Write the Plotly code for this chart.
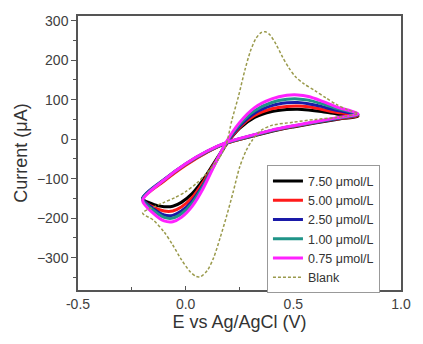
import plotly.graph_objects as go

# Potentials (V) for the forward (dip -> peak) and return (straight) branches
x_fwd = [-0.2, -0.15, -0.1, -0.06, -0.02, 0.03, 0.08, 0.13, 0.19, 0.25, 0.32, 0.4, 0.47, 0.52, 0.57, 0.63, 0.7, 0.8]
x_rev = [0.8, 0.7, 0.6, 0.5, 0.4, 0.3, 0.19, 0.1, 0.0, -0.1, -0.2]

labels = ["7.50 μmol/L", "5.00 μmol/L", "2.50 μmol/L", "1.00 μmol/L", "0.75 μmol/L"]
colors = ["#000000", "#ff1a1a", "#1a1aa8", "#1f9488", "#ff22ff"]

i_fwd = [
    [-150, -165, -171, -170, -160, -138, -104, -62, -12, 27, 55, 70, 75, 76, 74, 70, 64, 58],
    [-152, -172, -182, -182, -172, -148, -110, -65, -12, 30, 60, 77, 83, 84, 82, 76, 68, 60],
    [-150, -176, -192, -193, -182, -157, -117, -68, -10, 33, 66, 85, 92, 93, 90, 83, 73, 62],
    [-152, -180, -198, -200, -189, -162, -120, -68, -8, 37, 72, 93, 101, 102, 99, 90, 78, 63],
    [-155, -188, -207, -209, -198, -170, -126, -70, -6, 42, 80, 102, 111, 112, 108, 97, 82, 64],
]
i_rev = [
    [58, 50, 41, 31, 20, 6, -10, -32, -64, -104, -150],
    [60, 51, 42, 32, 21, 7, -10, -33, -66, -106, -152],
    [62, 52, 43, 33, 22, 8, -9, -31, -63, -102, -150],
    [63, 53, 43, 33, 22, 8, -9, -31, -63, -103, -152],
    [64, 54, 44, 34, 23, 9, -8, -30, -62, -103, -155],
]

# Blank
blank_x_fwd = [-0.2, -0.15, -0.1, -0.05, 0.0, 0.05, 0.1, 0.15, 0.185, 0.215, 0.245, 0.275, 0.3, 0.325, 0.35, 0.37, 0.39, 0.42, 0.45, 0.48, 0.51, 0.55, 0.6, 0.65, 0.7, 0.75, 0.8]
blank_i_fwd = [-187, -172, -160, -148, -133, -112, -85, -52, -19, 49, 108, 175, 222, 254, 270, 272, 265, 240, 208, 180, 158, 140, 123, 105, 88, 75, 65]
blank_x_rev = [0.8, 0.7, 0.6, 0.5, 0.4, 0.35, 0.31, 0.28, 0.25, 0.22, 0.19, 0.16, 0.13, 0.1, 0.07, 0.05, 0.02, -0.02, -0.06, -0.1, -0.15, -0.2]
blank_i_rev = [62, 55, 50, 43, 35, 22, -2, -30, -72, -135, -195, -250, -300, -333, -348, -348, -335, -305, -268, -235, -205, -187]

fig = go.Figure()
for lab, col, f, r in zip(labels, colors, i_fwd, i_rev):
    fig.add_trace(go.Scatter(
        x=x_fwd + x_rev[1:], y=f + r[1:], mode="lines", name=lab,
        line=dict(color=col, width=3, shape="spline", smoothing=0.8),
    ))
fig.add_trace(go.Scatter(
    x=blank_x_fwd + blank_x_rev[1:], y=blank_i_fwd + blank_i_rev[1:], mode="lines", name="Blank",
    line=dict(color="#9a9a4c", width=1.5, dash="3px,2px", shape="spline", smoothing=0.8),
))

FONT = "Liberation Sans, Arial, sans-serif"
axis_font = dict(family=FONT, size=14, color="#404040")
title_font = dict(family=FONT, size=18, color="#333333")
fig.update_layout(
    width=423, height=344,
    margin=dict(l=78, r=12, t=16, b=54),
    paper_bgcolor="white", plot_bgcolor="white",
    font=dict(family=FONT, color="#3a3a3a"),
    showlegend=True,
    legend=dict(
        x=0.585, y=0.455, xanchor="left", yanchor="top",
        bordercolor="#999999", borderwidth=1, bgcolor="white",
        font=dict(family=FONT, size=12.5, color="#333333"),
        tracegroupgap=0, itemwidth=30,
    ),
)
fig.update_xaxes(
    range=[-0.5, 1.0], tickvals=[-0.5, 0.0, 0.5, 1.0], ticktext=["-0.5", "0.0", "0.5", "1.0"],
    ticks="inside", ticklen=4, tickcolor="#555555",
    minor=dict(dtick=0.25, tick0=-0.5, ticks="inside", ticklen=3, tickcolor="#555555"),
    showline=True, linecolor="#555555", linewidth=1.5, mirror=True,
    showgrid=False, zeroline=False, tickfont=axis_font,
    title=dict(text="E vs Ag/AgCl (V)", font=title_font, standoff=5),
)
fig.update_yaxes(
    range=[-382, 312], tickvals=[-300, -200, -100, 0, 100, 200, 300],
    ticks="outside", ticklen=5, tickcolor="#555555",
    minor=dict(dtick=50, tick0=0, ticks="outside", ticklen=3, tickcolor="#555555"),
    showline=True, linecolor="#555555", linewidth=1.5, mirror=True,
    showgrid=False, zeroline=False, tickfont=axis_font,
    title=dict(text="Current (μA)", font=title_font, standoff=5),
)
fig.write_html("out.html")
